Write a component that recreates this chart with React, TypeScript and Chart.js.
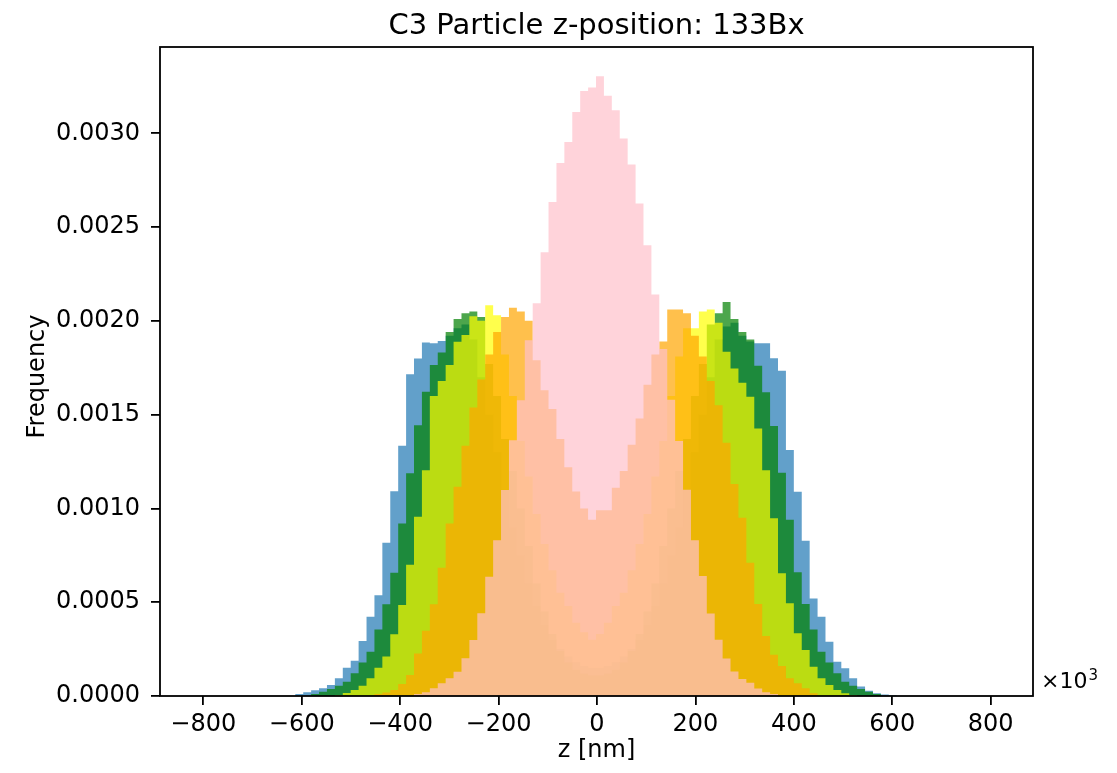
import React, { useEffect, useRef } from 'react';
import { Chart, registerables } from 'chart.js';

Chart.register(...registerables);

// Histogram bins: left edge of first bin and constant bin width (nm)
const BIN_START = -629.12;
const BIN_WIDTH = 16.08;

const blueValues = [
  0, 0.00001, 0.00002, 0.00003, 0.000041, 0.000059, 0.000094, 0.000151, 0.000188, 0.000293, 0.000423, 0.000537, 0.000817,
  0.001091, 0.001334, 0.001716, 0.001799, 0.001885, 0.00188, 0.001893, 0.00192, 0.00196, 0.00198, 0.0019, 0.0017, 0.0015,
  0.0013, 0.0011, 0.0009, 0.00075, 0.0006, 0.00048, 0.00038, 0.0003, 0.00025, 0.00021, 0.00018, 0.00016, 0.00015,
  0.00015, 0.00016, 0.00018, 0.00021, 0.00025, 0.0003, 0.00038, 0.00048, 0.0006, 0.00075, 0.0009, 0.0011, 0.0013,
  0.0015, 0.0017, 0.0019, 0.00197, 0.00199, 0.00192, 0.00189, 0.00188, 0.00188, 0.0018, 0.001734, 0.001311, 0.001089,
  0.000828, 0.00052, 0.000423, 0.000289, 0.000183, 0.000148, 0.000094, 0.00005, 0.000028, 0.000014, 0.000008, 0.000004, 0,
];

const greenValues = [
  0, 0, 0, 0.00001, 0.000023, 0.000037, 0.000055, 0.000076, 0.000121, 0.000178, 0.000236, 0.000355, 0.000489,
  0.000657, 0.00092, 0.001187, 0.001444, 0.001622, 0.001764, 0.001831, 0.00194, 0.00201, 0.00204, 0.00205, 0.00202, 0.00177,
  0.0016, 0.00137, 0.0012, 0.001, 0.0008, 0.0006, 0.00045, 0.00033, 0.00024, 0.00018, 0.00014, 0.00012, 0.00011,
  0.00011, 0.00012, 0.00014, 0.00018, 0.00024, 0.00033, 0.00045, 0.0006, 0.0008, 0.001, 0.0012, 0.00137, 0.0016,
  0.00177, 0.00198, 0.00204, 0.0021, 0.00201, 0.00194, 0.0019, 0.00176, 0.00162, 0.00144, 0.00119, 0.00094, 0.00066,
  0.00049, 0.000355, 0.000236, 0.000178, 0.000121, 0.000076, 0.000055, 0.000037, 0.000023, 0.00001, 0, 0, 0,
];

const yellowValues = [
  0, 0, 0, 0, 0, 0, 0.000005, 0.000016, 0.000032, 0.000055, 0.000094, 0.000151, 0.00021,
  0.000329, 0.000485, 0.0007, 0.000955, 0.001204, 0.0016, 0.00168, 0.001764, 0.001888, 0.001924, 0.002025, 0.002, 0.002083,
  0.00203, 0.00182, 0.0016, 0.00136, 0.00117, 0.00097, 0.00081, 0.00067, 0.00055, 0.00048, 0.00039, 0.00034, 0.0003,
  0.00033, 0.00039, 0.00048, 0.00055, 0.00067, 0.00081, 0.00097, 0.00117, 0.00136, 0.0016, 0.00181, 0.00196, 0.00196,
  0.00205, 0.00206, 0.00199, 0.001835, 0.001746, 0.00167, 0.001595, 0.001426, 0.001204, 0.000947, 0.000654, 0.000494, 0.000334,
  0.000245, 0.000156, 0.000094, 0.000059, 0.000032, 0.000014, 0.000005, 0, 0, 0, 0, 0, 0,
];

const orangeValues = [
  0, 0, 0, 0, 0, 0, 0, 0, 0, 0, 0, 0.00001, 0.000018,
  0.000032, 0.000064, 0.000112, 0.000227, 0.000348, 0.000489, 0.000684, 0.00092, 0.001115, 0.001334, 0.001538, 0.001688, 0.00182,
  0.00194, 0.00202, 0.00207, 0.00205, 0.002, 0.00179, 0.00163, 0.00153, 0.00137, 0.00122, 0.00109, 0.001, 0.00094,
  0.00099, 0.00099, 0.00111, 0.0012, 0.00134, 0.00148, 0.00166, 0.00182, 0.00189, 0.00206, 0.00206, 0.00204, 0.00192,
  0.00181, 0.00168, 0.00155, 0.00135, 0.00113, 0.00095, 0.00071, 0.00049, 0.00032, 0.00022, 0.00016, 0.000094, 0.000068,
  0.000041, 0.000014, 0, 0, 0, 0, 0, 0, 0, 0, 0, 0, 0,
];

const pinkValues = [
  0, 0, 0, 0, 0, 0, 0, 0, 0, 0, 0, 0, 0,
  0, 0, 0, 0.00001, 0.00002, 0.000041, 0.000068, 0.000094, 0.000129, 0.000201, 0.000298, 0.000441, 0.000636,
  0.000831, 0.001098, 0.001364, 0.001577, 0.001897, 0.002094, 0.002366, 0.002634, 0.002842, 0.002954, 0.003114, 0.003226, 0.003244,
  0.003304, 0.0032, 0.003123, 0.002972, 0.002833, 0.002626, 0.002403, 0.00214, 0.00185, 0.00158, 0.00136, 0.0011, 0.00083,
  0.00064, 0.00044, 0.0003, 0.0002, 0.00013, 0.00009, 0.00007, 0.00004, 0.00002, 0.00001, 0, 0, 0,
  0, 0, 0, 0, 0, 0, 0, 0, 0, 0, 0, 0, 0,
];

const xTicks = [-800, -600, -400, -200, 0, 200, 400, 600, 800];
const yTicks = [0, 0.0005, 0.001, 0.0015, 0.002, 0.0025, 0.003];

const TITLE = 'C3 Particle z-position: 133Bx';
const X_LABEL = 'z [nm]';
const Y_LABEL = 'Frequency';

const FONT = "'DejaVu Sans', 'Liberation Sans', sans-serif";

function toSteps(values: number[]) {
  const pts = values.map((v, i) => ({ x: BIN_START + i * BIN_WIDTH, y: v }));
  pts.push({ x: BIN_START + values.length * BIN_WIDTH, y: 0 });
  return pts;
}

function histDataset(values: number[], color: string, order: number) {
  return {
    data: toSteps(values),
    stepped: 'before' as const,
    fill: 'origin',
    backgroundColor: color,
    borderWidth: 0,
    borderColor: 'rgba(0,0,0,0)',
    pointRadius: 0,
    order,
  };
}

const framePlugin = {
  id: 'frameAndText',
  afterDraw(chart: any) {
    const { ctx, chartArea } = chart;
    const { left, right, top, bottom } = chartArea;
    ctx.save();
    ctx.strokeStyle = '#000';
    ctx.lineWidth = 1.8;
    ctx.strokeRect(left, top, right - left, bottom - top);

    ctx.fillStyle = '#000';
    // title
    ctx.font = `29px ${FONT}`;
    ctx.textAlign = 'center';
    ctx.textBaseline = 'alphabetic';
    ctx.fillText(TITLE, (left + right) / 2, 34);

    // x label
    ctx.font = `24px ${FONT}`;
    ctx.fillText(X_LABEL, (left + right) / 2, 757);

    // y label
    ctx.save();
    ctx.translate(44, (top + bottom) / 2 + 5);
    ctx.rotate(-Math.PI / 2);
    ctx.textAlign = 'center';
    ctx.fillText(Y_LABEL, 0, 0);
    ctx.restore();

    // offset text ×10^3
    ctx.textAlign = 'left';
    ctx.font = `22px ${FONT}`;
    ctx.fillText('\u00d710', right + 8, 688);
    const w = ctx.measureText('\u00d710').width;
    ctx.font = `15px ${FONT}`;
    ctx.fillText('3', right + 8 + w + 1, 680);
    ctx.restore();
  },
};

function fmtX(v: number) {
  return v < 0 ? '\u2212' + String(Math.abs(v)) : String(v);
}

export default function App() {
  const ref = useRef<HTMLCanvasElement>(null);
  useEffect(() => {
    const canvas = ref.current;
    if (!canvas) return;
    const chart = new Chart(canvas, {
      type: 'line',
      data: {
        datasets: [
          histDataset(blueValues, 'rgba(31,119,180,0.7)', 5),
          histDataset(greenValues, 'rgba(0,128,0,0.7)', 4),
          histDataset(yellowValues, 'rgba(255,255,0,0.7)', 3),
          histDataset(orangeValues, 'rgba(255,165,0,0.7)', 2),
          histDataset(pinkValues, 'rgba(255,192,203,0.7)', 1),
        ] as any,
      },
      options: {
        responsive: false,
        animation: false,
        devicePixelRatio: 1,
        layout: { padding: { left: 0, right: 84, top: 47, bottom: 0 } },
        plugins: {
          legend: { display: false },
          tooltip: { enabled: false },
          title: { display: false },
        },
        scales: {
          x: {
            type: 'linear',
            min: -888,
            max: 886,
            afterBuildTicks: (s: any) => {
              s.ticks = xTicks.map((v) => ({ value: v }));
            },
            afterFit: (s: any) => {
              s.height = 77;
            },
            grid: { drawOnChartArea: false, drawTicks: true, tickLength: 9, color: '#000', lineWidth: 1.8 },
            border: { display: false },
            ticks: {
              font: { family: FONT, size: 24 },
              color: '#000',
              padding: 5,
              maxRotation: 0,
              autoSkip: false,
              callback: (v: any) => fmtX(Number(v)),
            },
          },
          y: {
            type: 'linear',
            min: 0,
            max: 0.00346,
            afterBuildTicks: (s: any) => {
              s.ticks = yTicks.map((v) => ({ value: v }));
            },
            afterFit: (s: any) => {
              s.width = 160;
            },
            grid: { drawOnChartArea: false, drawTicks: true, tickLength: 9, color: '#000', lineWidth: 1.8 },
            border: { display: false },
            ticks: {
              font: { family: FONT, size: 24 },
              color: '#000',
              padding: 11,
              autoSkip: false,
              callback: (v: any) => Number(v).toFixed(4),
            },
          },
        },
      } as any,
      plugins: [framePlugin],
    });
    return () => chart.destroy();
  }, []);
  return (
    <div style={{ position: 'fixed', left: 0, top: 0, width: 1117, height: 773, background: '#fff' }}>
      <canvas ref={ref} width={1117} height={773} style={{ display: 'block', width: 1117, height: 773 }} />
    </div>
  );
}
